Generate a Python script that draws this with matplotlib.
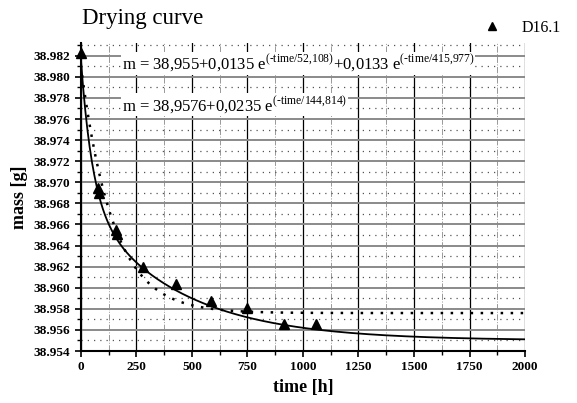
import matplotlib
matplotlib.use("Agg")
import matplotlib.pyplot as plt
import numpy as np
from matplotlib.ticker import MultipleLocator, FormatStrFormatter

plt.rcParams['font.family'] = ['Liberation Serif', 'DejaVu Serif']
plt.rcParams['mathtext.fontset'] = 'custom'
plt.rcParams['mathtext.rm'] = 'Liberation Serif'

# measured points (time [h], mass [g])
time_h = [0, 77, 80, 160, 162, 278, 428, 588, 748, 915, 1058]
mass_g = [38.9823, 38.9695, 38.9690, 38.9655, 38.9651, 38.9620, 38.9604, 38.9587,
          38.9581, 38.9566, 38.9566]

# fit parameters as printed on the chart
fit2 = [38.955, 0.0135, 52.108, 0.0133, 415.977]
fit1 = [38.9576, 0.0235, 144.814]

t = np.linspace(0, 2000, 400)
m2 = fit2[0] + fit2[1] * np.exp(-t / fit2[2]) + fit2[3] * np.exp(-t / fit2[4])
m1 = fit1[0] + fit1[1] * np.exp(-t / fit1[2])

fig = plt.figure(figsize=(5.77, 4.03), dpi=100)
ax = fig.add_axes([0.140, 0.129, 0.770, 0.764])

ax.set_xlim(0, 2000)
ax.set_ylim(38.954, 38.9832)
ax.xaxis.set_major_locator(MultipleLocator(250))
ax.xaxis.set_minor_locator(MultipleLocator(125))
ax.yaxis.set_major_locator(MultipleLocator(0.002))
ax.yaxis.set_minor_locator(MultipleLocator(0.001))
ax.yaxis.set_major_formatter(FormatStrFormatter('%.3f'))
ax.set_yticks(np.arange(38.954, 38.9825, 0.002))

ax.grid(axis='y', which='major', color='#8a8a8a', lw=1.4, ls='-')
ax.grid(axis='y', which='minor', color='#555555', lw=0.9, ls=(0, (1, 4)))
ax.grid(axis='x', which='major', color='black', lw=0.9, ls='-')
ax.grid(axis='x', which='minor', color='#999999', lw=0.7, ls='-.')
ax.set_axisbelow(True)

for s in ['top', 'right']:
    ax.spines[s].set_visible(False)
ax.spines['left'].set_linewidth(1.5)
ax.spines['bottom'].set_linewidth(1.5)
ax.tick_params(which='major', direction='out', length=4, width=1.2, labelsize=9.5)
ax.tick_params(which='minor', direction='out', length=3, width=1.0)
for lab in ax.get_xticklabels() + ax.get_yticklabels():
    lab.set_fontweight('bold')

ax.plot(t, m2, color='black', lw=1.3, zorder=3)
ax.plot(t, m1, color='black', lw=1.8, ls=(0, (1, 3)), zorder=3)
ax.plot(time_h, mass_g, ls='none', marker='^', color='black', ms=7.5, zorder=4,
        label='D16.1', clip_on=False)

ax.set_xlabel('time [h]', fontsize=13, fontweight='bold')
ax.set_ylabel('mass [g]', fontsize=13, fontweight='bold')

fig.text(0.142, 0.94, 'Drying curve', fontsize=16.5)

box = dict(facecolor='white', edgecolor='none', pad=0.5)
ax.text(185, 38.9813,
        r'm = 38,955+0,0135 e$^{\text{(-time/52,108)}}$+0,0133 e$^{\text{(-time/415,977)}}$',
        fontsize=12, va='center', ha='left', bbox=box, zorder=5)
ax.text(185, 38.97735,
        r'm = 38,9576+0,0235 e$^{\text{(-time/144,814)}}$',
        fontsize=12, va='center', ha='left', bbox=box, zorder=5)

ax.legend(loc='center', bbox_to_anchor=(0.985, 1.05), frameon=False,
          fontsize=11.5, handletextpad=0.8, markerscale=0.85)

fig.savefig('out.png', dpi=100)
